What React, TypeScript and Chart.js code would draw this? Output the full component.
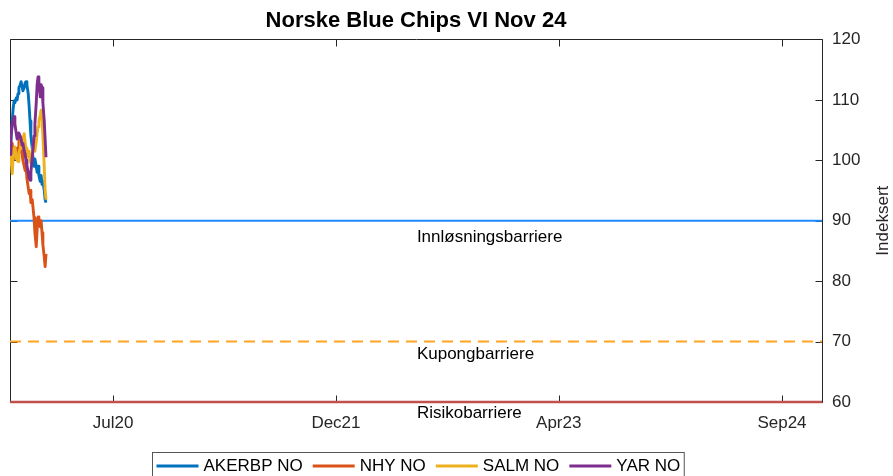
import React, { useEffect, useRef } from "react";
import { Chart, registerables } from "chart.js";

Chart.register(...registerables);

const FONT = '"Liberation Sans", Arial, Helvetica, sans-serif';

const chartTitle = "Norske Blue Chips VI Nov 24";
const yAxisTitle = "Indeksert";

// day offsets from the start of the product (mid Nov 2019)
const dayOffsets = [
  0, 2, 5, 7, 9, 11, 14, 16, 18, 20, 23, 25, 27, 29, 32, 34, 36, 38, 41, 43, 45, 47, 50, 52, 54, 56,
  59, 61, 63, 65, 68, 70, 72, 74, 77, 79, 81,
];

const seriesNames = ["AKERBP NO", "NHY NO", "SALM NO", "YAR NO"];
const seriesColors = ["#0072BD", "#D95319", "#EDB120", "#7E2F8E"];

const akerbp = [
  100.5, 103, 106.5, 108.5, 109.8, 109.5, 110.3, 110, 111, 112, 112.5, 113, 112.3, 111.5, 112, 112.8,
  113, 112.5, 111, 109, 106.5, 104, 102, 100, 99, 100.2, 99, 98, 99, 97.5, 96.5, 97.5, 96, 96.5, 95,
  93.5, 93,
];
const nhy = [
  100, 101.8, 102.8, 101, 100.3, 101.5, 100.5, 102, 101.2, 103, 103.9, 102.5, 101, 100, 99, 98.3, 99,
  97, 95.5, 94.5, 95, 93, 93.5, 92, 90.5, 88, 85.7, 88.5, 90.6, 89.5, 89, 90, 88, 86, 84, 82.4, 84.5,
];
const salm = [
  99.5, 100.5, 97.8, 100.5, 102, 102.2, 100.5, 100, 99.8, 101.3, 102, 103.3, 102, 103.5, 104.4, 103,
  102, 101, 100.5, 101.5, 100, 99.5, 101, 102.3, 103, 101.5, 103, 104.5, 105.5, 106.5, 107.5, 108.3,
  107, 104, 99, 95, 93.5,
];
const yar = [
  101, 104, 106, 106.5, 107.2, 106, 104.5, 103.5, 103.8, 104.5, 104, 103.5, 102.5, 102.8, 101.5, 101,
  100, 99, 98, 97, 96.7, 98, 100.5, 102, 104, 106, 109.5, 112.5, 113.8, 113, 110.5, 112.5, 112, 109.5,
  106.5, 103.5, 100.5,
];
const seriesValues = [akerbp, nhy, salm, yar];

const xStartDay = 0;
const xEndDay = 1826;
const xTickDays = [232, 733, 1234, 1736];
const xTickLabels = ["Jul20", "Dec21", "Apr23", "Sep24"];

const yMin = 60;
const yMax = 120;
const yStep = 10;

const barrierNames = ["Innløsningsbarriere", "Kupongbarriere", "Risikobarriere"];
const barrierLevels = [90, 70, 60];
const barrierColors = ["#1E8CFF", "#FFA524", "#C0504D"];
const barrierDashes = [[], [11, 7], []];
const barrierLabelDay = 915;
const barrierLabelOffsets = [17, 13, 11];

const TEXT = "#262626";

const decorPlugin = {
  id: "decor",
  beforeDatasetsDraw(chart: any) {
    const { ctx, chartArea: a, scales } = chart;
    const xs = scales.x;
    const ys = scales.y;
    ctx.save();
    ctx.strokeStyle = TEXT;
    ctx.lineWidth = 1;
    const L = Math.round(a.left) + 0.5;
    const R = Math.round(a.right) + 0.5;
    const T = Math.round(a.top) + 0.5;
    const B = Math.round(a.bottom) + 0.5;
    ctx.beginPath();
    ctx.rect(L, T, R - L, B - T);
    const tl = 7;
    xTickDays.forEach((d) => {
      const px = Math.round(xs.getPixelForValue(d)) + 0.5;
      ctx.moveTo(px, B);
      ctx.lineTo(px, B - tl);
      ctx.moveTo(px, T);
      ctx.lineTo(px, T + tl);
    });
    for (let v = yMin; v <= yMax; v += yStep) {
      const py = Math.round(ys.getPixelForValue(v)) + 0.5;
      ctx.moveTo(R, py);
      ctx.lineTo(R - tl, py);
      ctx.moveTo(L, py);
      ctx.lineTo(L + tl, py);
    }
    ctx.stroke();
    ctx.restore();
  },
  afterDraw(chart: any) {
    const { ctx, chartArea: a, scales } = chart;
    const xs = scales.x;
    const ys = scales.y;
    ctx.save();
    // barrier labels
    ctx.fillStyle = "#000";
    ctx.font = `17px ${FONT}`;
    ctx.textAlign = "left";
    ctx.textBaseline = "middle";
    barrierNames.forEach((name, i) => {
      const px = xs.getPixelForValue(barrierLabelDay);
      const py = ys.getPixelForValue(barrierLevels[i]) + barrierLabelOffsets[i];
      ctx.fillText(name, px, py);
    });
    // y axis title (reads bottom to top)
    ctx.save();
    ctx.fillStyle = TEXT;
    ctx.font = `17px ${FONT}`;
    ctx.textAlign = "center";
    ctx.textBaseline = "middle";
    ctx.translate(chart.width - 10, (a.top + a.bottom) / 2);
    ctx.rotate(-Math.PI / 2);
    ctx.fillText(yAxisTitle, 0, 0);
    ctx.restore();
    // legend
    ctx.font = `17px ${FONT}`;
    const lineLen = 42;
    const gapLT = 5;
    const gapItem = 10;
    const padX = 4;
    const widths = seriesNames.map((n) => ctx.measureText(n).width);
    let total = padX * 2 + gapItem * (seriesNames.length - 1);
    widths.forEach((w) => (total += lineLen + gapLT + w));
    const cx = (a.left + a.right) / 2 + 2;
    const left = Math.round(cx - total / 2) + 0.5;
    const top = 452.5;
    ctx.fillStyle = "#fff";
    ctx.fillRect(left, top, total, 30);
    ctx.strokeStyle = "#555";
    ctx.lineWidth = 1;
    ctx.strokeRect(left, top, total, 30);
    const cy = 466;
    let x = left + padX;
    seriesNames.forEach((n, i) => {
      ctx.strokeStyle = seriesColors[i];
      ctx.lineWidth = 2.8;
      ctx.beginPath();
      ctx.moveTo(x, cy);
      ctx.lineTo(x + lineLen, cy);
      ctx.stroke();
      x += lineLen + gapLT;
      ctx.fillStyle = "#000";
      ctx.textAlign = "left";
      ctx.textBaseline = "middle";
      ctx.fillText(n, x, cy);
      x += widths[i] + gapItem;
    });
    ctx.restore();
  },
};

export default function App() {
  const ref = useRef<HTMLCanvasElement>(null);
  useEffect(() => {
    Chart.defaults.font.family = FONT;
    const datasets: any[] = [];
    barrierNames.forEach((name, i) => {
      datasets.push({
        label: name,
        data: [
          { x: xStartDay, y: barrierLevels[i] },
          { x: xEndDay, y: barrierLevels[i] },
        ],
        borderColor: barrierColors[i],
        borderWidth: i === 2 ? 2.5 : 2,
        borderDash: barrierDashes[i],
        pointRadius: 0,
        clip: 4,
        order: 10,
      });
    });
    seriesNames.forEach((name, i) => {
      datasets.push({
        label: name,
        data: dayOffsets.map((d, k) => ({ x: d, y: seriesValues[i][k] })),
        borderColor: seriesColors[i],
        borderWidth: 2.9,
        pointRadius: 0,
        tension: 0,
        borderJoinStyle: "round",
        order: 4 - i,
      });
    });
    const chart = new Chart(ref.current!, {
      type: "line",
      data: { datasets },
      options: {
        animation: false,
        responsive: true,
        maintainAspectRatio: false,
        layout: { padding: { left: 10, right: 0, top: 0, bottom: 0 } },
        plugins: {
          legend: { display: false },
          tooltip: { enabled: false },
          title: {
            display: true,
            fullSize: false,
            text: chartTitle,
            color: "#000",
            font: { size: 22, weight: "bold", family: FONT },
            padding: { top: 8, bottom: 5 },
          },
        },
        scales: {
          x: {
            type: "linear",
            min: xStartDay,
            max: xEndDay,
            grid: { display: false, drawTicks: false },
            border: { display: false },
            afterBuildTicks: (s: any) => {
              s.ticks = xTickDays.map((v) => ({ value: v }));
            },
            afterFit: (s: any) => {
              s.height = 74;
            },
            ticks: {
              autoSkip: false,
              maxRotation: 0,
              color: TEXT,
              font: { size: 17 },
              padding: 11,
              callback: (v: any) => {
                const i = xTickDays.indexOf(Number(v));
                return i >= 0 ? xTickLabels[i] : "";
              },
            },
          },
          y: {
            position: "right",
            min: yMin,
            max: yMax,
            grid: { display: false, drawTicks: false },
            border: { display: false },
            afterFit: (s: any) => {
              s.width = 71;
            },
            ticks: {
              stepSize: yStep,
              color: TEXT,
              font: { size: 17 },
              padding: 10,
            },
          },
        },
      } as any,
      plugins: [decorPlugin],
    });
    return () => chart.destroy();
  }, []);
  return (
    <div style={{ position: "absolute", left: 0, top: 0, width: 893, height: 476, background: "#fff" }}>
      <canvas ref={ref} />
    </div>
  );
}
